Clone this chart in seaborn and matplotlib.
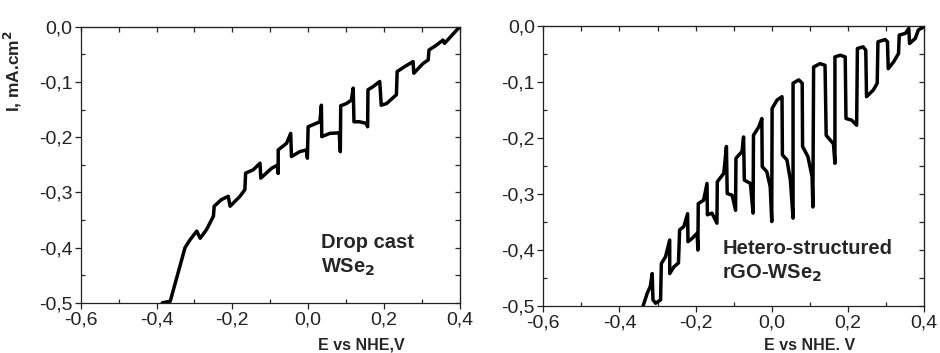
import matplotlib
matplotlib.use("Agg")
import matplotlib.pyplot as plt
import numpy as np
import seaborn as sns
import pandas as pd
from matplotlib.ticker import MultipleLocator, FuncFormatter

# drop cast WSe2 (potential V vs NHE, current mA/cm2)
e_drop = [-0.385, -0.364, -0.325, -0.312, -0.294, -0.285, -0.268, -0.250, -0.248, -0.229,
          -0.211, -0.206, -0.180, -0.167, -0.165, -0.145, -0.127, -0.125, -0.096, -0.079,
          -0.079, -0.079, -0.057, -0.046, -0.044, -0.022, -0.004, -0.002, 0.000, 0.031,
          0.035, 0.036, 0.057, 0.082, 0.085, 0.086, 0.101, 0.114, 0.119, 0.121,
          0.136, 0.154, 0.157, 0.158, 0.172, 0.189, 0.193, 0.207, 0.233, 0.235,
          0.255, 0.277, 0.279, 0.304, 0.317, 0.319, 0.339, 0.356, 0.360, 0.400]
i_drop = [-0.500, -0.497, -0.400, -0.386, -0.370, -0.383, -0.367, -0.343, -0.325, -0.313,
          -0.307, -0.325, -0.307, -0.295, -0.265, -0.259, -0.247, -0.274, -0.256, -0.250,
          -0.265, -0.223, -0.211, -0.193, -0.235, -0.226, -0.223, -0.238, -0.181, -0.172,
          -0.142, -0.199, -0.193, -0.192, -0.226, -0.143, -0.139, -0.133, -0.111, -0.172,
          -0.172, -0.175, -0.181, -0.114, -0.108, -0.099, -0.142, -0.139, -0.123, -0.081,
          -0.072, -0.063, -0.084, -0.066, -0.060, -0.042, -0.033, -0.024, -0.030, 0.000]

# hetero-structured rGO-WSe2
e_het = [-0.338, -0.327, -0.319, -0.314, -0.312, -0.305, -0.292, -0.290, -0.279, -0.268,
         -0.268, -0.257, -0.245, -0.242, -0.231, -0.221, -0.220, -0.209, -0.196, -0.194,
         -0.193, -0.179, -0.170, -0.169, -0.157, -0.144, -0.143, -0.126, -0.119, -0.117,
         -0.104, -0.095, -0.094, -0.078, -0.074, -0.072, -0.056, -0.049, -0.048, -0.034,
         -0.026, -0.025, -0.013, -0.004, 0.000, 0.001, 0.014, 0.027, 0.028, 0.040,
         0.049, 0.056, 0.056, 0.071, 0.080, 0.081, 0.095, 0.106, 0.108, 0.110,
         0.127, 0.140, 0.143, 0.153, 0.162, 0.166, 0.166, 0.180, 0.193, 0.195,
         0.210, 0.223, 0.225, 0.240, 0.247, 0.249, 0.267, 0.277, 0.279, 0.298,
         0.304, 0.306, 0.320, 0.333, 0.335, 0.351, 0.360, 0.362, 0.377, 0.385, 0.400]
i_het = [-0.500, -0.477, -0.465, -0.442, -0.489, -0.495, -0.489, -0.424, -0.412, -0.382,
         -0.442, -0.430, -0.423, -0.364, -0.358, -0.335, -0.385, -0.379, -0.370, -0.400,
         -0.317, -0.311, -0.281, -0.337, -0.334, -0.352, -0.278, -0.263, -0.215, -0.299,
         -0.302, -0.329, -0.236, -0.224, -0.198, -0.275, -0.281, -0.334, -0.195, -0.180,
         -0.165, -0.251, -0.260, -0.287, -0.349, -0.147, -0.132, -0.126, -0.230, -0.239,
         -0.275, -0.343, -0.102, -0.096, -0.102, -0.215, -0.233, -0.269, -0.323, -0.073,
         -0.067, -0.070, -0.195, -0.203, -0.210, -0.245, -0.055, -0.052, -0.055, -0.165,
         -0.168, -0.177, -0.040, -0.037, -0.043, -0.126, -0.114, -0.102, -0.028, -0.024,
         -0.028, -0.076, -0.064, -0.049, -0.016, -0.013, -0.004, -0.031, -0.022, -0.007, -0.001]

sns.set_style("ticks")
plt.rcParams['font.family'] = ['Liberation Sans', 'DejaVu Sans']

fig = plt.figure(figsize=(9.4, 3.53), dpi=100)
ax1 = fig.add_axes([0.086, 0.142, 0.403, 0.782])
ax2 = fig.add_axes([0.578, 0.133, 0.405, 0.793])

comma = FuncFormatter(lambda v, p: f"{v:.1f}".replace('.', ',').replace('-0,0', '0,0'))


def style_axis(ax):
    ax.set_xlim(-0.6, 0.4)
    ax.set_ylim(-0.5, 0.0)
    ax.xaxis.set_major_locator(MultipleLocator(0.2))
    ax.xaxis.set_minor_locator(MultipleLocator(0.1))
    ax.yaxis.set_major_locator(MultipleLocator(0.1))
    ax.yaxis.set_minor_locator(MultipleLocator(0.05))
    ax.xaxis.set_major_formatter(comma)
    ax.yaxis.set_major_formatter(comma)
    ax.tick_params(which='major', direction='out', length=4, width=0.9, labelsize=14, pad=2, colors='#222222')
    ax.tick_params(which='minor', direction='in', length=3, width=0.9)
    for s in ax.spines.values():
        s.set_visible(True)
        s.set_linewidth(0.9)
        s.set_color('#222222')
    # mirrored ticks on top and right, pointing inward
    top = ax.secondary_xaxis('top')
    top.xaxis.set_major_locator(MultipleLocator(0.2))
    top.xaxis.set_minor_locator(MultipleLocator(0.1))
    top.tick_params(which='both', direction='in', length=3.5, width=0.9, labeltop=False)
    right = ax.secondary_yaxis('right')
    right.yaxis.set_major_locator(MultipleLocator(0.1))
    right.yaxis.set_minor_locator(MultipleLocator(0.05))
    right.tick_params(which='both', direction='in', length=3.5, width=0.9, labelright=False)


df1 = pd.DataFrame({'E': e_drop, 'I': i_drop})
df2 = pd.DataFrame({'E': e_het, 'I': i_het})

sns.lineplot(data=df1, x='E', y='I', sort=False, estimator=None, color='black', lw=2.5,
             solid_joinstyle='round', ax=ax1)
sns.lineplot(data=df2, x='E', y='I', sort=False, estimator=None, color='black', lw=2.5,
             solid_joinstyle='round', ax=ax2)

style_axis(ax1)
style_axis(ax2)

ax1.set_xlabel('E vs NHE,V', fontsize=11.5, fontweight='bold')
ax1.xaxis.set_label_coords(0.74, -0.125)
ax1.set_ylabel('I, mA.cm$^{\\mathbf{2}}$', fontsize=12.5, fontweight='bold')
ax1.yaxis.set_label_coords(-0.15, 0.84)
ax2.set_xlabel('E vs NHE. V', fontsize=11.5, fontweight='bold')
ax2.xaxis.set_label_coords(0.70, -0.113)
ax2.set_ylabel('')

ax1.text(0.635, 0.17, 'Drop cast\nWSe$_\\mathbf{2}$', transform=ax1.transAxes,
         fontsize=14.5, fontweight='bold', linespacing=1.3, va='center')
ax2.text(0.47, 0.16, 'Hetero-structured\nrGO-WSe$_\\mathbf{2}$', transform=ax2.transAxes,
         fontsize=14.5, fontweight='bold', linespacing=1.3, va='center')

plt.savefig('out.png', dpi=100)
